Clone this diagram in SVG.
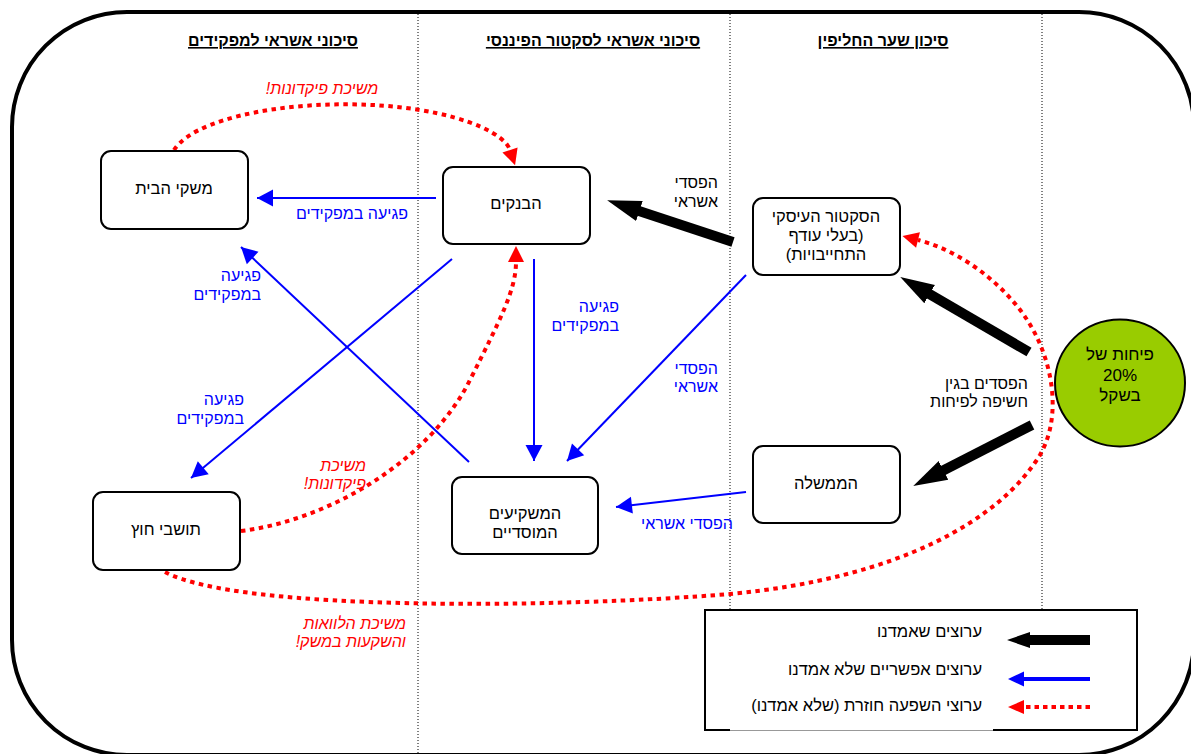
<svg xmlns="http://www.w3.org/2000/svg" width="1191" height="754" viewBox="0 0 1191 754">
<style>
text{font-family:"Liberation Sans","DejaVu Sans",sans-serif;font-size:16.5px;direction:rtl;unicode-bidi:embed}
.hdr{font-weight:bold;text-decoration:underline;font-size:16px}
.c{text-anchor:middle}
.r{text-anchor:start}
.lb{font-size:16px}
.blue{fill:#0000FF}
.red{fill:#FF0000;font-style:italic}
.node rect{fill:#fff;stroke:#000;stroke-width:2}
.sep{stroke:#000;stroke-width:1;stroke-dasharray:1 2;fill:none}
.bl{stroke:#0000FF;stroke-width:2;fill:none;marker-end:url(#hBlue)}
.rd{stroke:#FF0000;stroke-width:4;stroke-dasharray:4.5 4.5;fill:none;marker-end:url(#hRed)}
.bk{stroke:#000;stroke-width:10;fill:none;marker-end:url(#hBlack)}
</style>
<defs>
<marker id="hBlue" markerUnits="userSpaceOnUse" markerWidth="18" markerHeight="18" viewBox="0 -9 16 18" refX="16" refY="0" orient="auto"><path d="M0,-8.5 L16,0 L0,8.5 z" fill="#0000FF"/></marker>
<marker id="hRed" markerUnits="userSpaceOnUse" markerWidth="18" markerHeight="18" viewBox="0 -9 17 18" refX="0" refY="0" orient="auto"><path d="M0,-8 L16,0 L0,8 z" fill="#FF0000"/></marker>
<marker id="hBlack" markerUnits="userSpaceOnUse" markerWidth="36" markerHeight="24" viewBox="0 -12 36 24" refX="2" refY="0" orient="auto"><path d="M0,-10.5 L34,0 L0,10.5 z" fill="#000"/></marker>
</defs>
<rect x="0" y="0" width="1191" height="754" fill="#fff"/>
<rect id="frame" x="12" y="12" width="1182" height="743" rx="115" ry="115" fill="none" stroke="#000" stroke-width="4"/>
<g id="separators">
<line class="sep" x1="418" y1="14" x2="418" y2="754"/>
<line class="sep" x1="730" y1="14" x2="730" y2="609"/>
<line class="sep" x1="1042" y1="14" x2="1042" y2="609"/>
</g>
<g id="headers">
<text class="hdr c" x="273" y="46">סיכוני אשראי למפקידים</text>
<text class="hdr c" x="593" y="46">סיכוני אשראי לסקטור הפיננסי</text>
<text class="hdr c" x="883" y="46">סיכון שער החליפין</text>
</g>
<g id="connectors">
<line class="bk" x1="733" y1="242" x2="637.5" y2="210.4"/>
<line class="bk" x1="1029" y1="352" x2="927.9" y2="293.1"/>
<line class="bk" x1="1032" y1="425" x2="941.7" y2="471.3"/>
<line class="bl" x1="436" y1="198" x2="257" y2="198"/>
<line class="bl" x1="452" y1="259" x2="191" y2="478"/>
<line class="bl" x1="469" y1="462" x2="241" y2="247"/>
<line class="bl" x1="534" y1="259" x2="534" y2="461"/>
<line class="bl" x1="746" y1="275" x2="567" y2="461"/>
<line class="bl" x1="746" y1="492" x2="616" y2="507"/>
<path class="rd" d="M174,150 C200,110 330,95 420,110 C470,118 505,135 510,150"/>
<path class="rd" d="M241,531 C330,520 430,460 470,380 C500,320 516,290 516,262"/>
<path class="rd" d="M165,572 C240,612 560,608 730,594 C900,578 1000,520 1040,455 C1066,410 1050,340 1010,298 C985,270 950,248 918,240"/>
</g>
<g id="labels">
<text class="red c lb" x="322" y="94">משיכת פיקדונות!</text>
<text class="blue r lb" x="408" y="219">פגיעה במפקידים</text>
<text class="blue r lb" x="261" y="281">פגיעה</text>
<text class="blue r lb" x="261" y="300">במפקידים</text>
<text class="blue r lb" x="244" y="405">פגיעה</text>
<text class="blue r lb" x="244" y="424">במפקידים</text>
<text class="blue r lb" x="619" y="312">פגיעה</text>
<text class="blue r lb" x="619" y="331">במפקידים</text>
<text class="r lb" x="718" y="188">הפסדי</text>
<text class="r lb" x="718" y="207">אשראי</text>
<text class="blue r lb" x="718" y="374">הפסדי</text>
<text class="blue r lb" x="718" y="392">אשראי</text>
<text class="r lb" x="1028" y="389">הפסדים בגין</text>
<text class="r lb" x="1028" y="407">חשיפה לפיחות</text>
<text class="red r lb" x="366" y="471">משיכת</text>
<text class="red r lb" x="366" y="489">פיקדונות!</text>
<text class="blue c lb" x="687" y="529">הפסדי אשראי</text>
<text class="red r lb" x="406" y="629">משיכת הלוואות</text>
<text class="red r lb" x="406" y="647">והשקעות במשק!</text>
</g>
<g id="n-households" class="node">
<rect x="101" y="151" width="147" height="78" rx="10"/>
<text class="c" x="174" y="194">משקי הבית</text>
</g>
<g id="n-banks" class="node">
<rect x="443" y="167" width="147" height="77" rx="10"/>
<text class="c" x="516" y="209">הבנקים</text>
</g>
<g id="n-business" class="node">
<rect x="753" y="198" width="147" height="77" rx="10"/>
<text class="c" x="826" y="222">הסקטור העיסקי</text>
<text class="c" x="826" y="241">(בעלי עודף</text>
<text class="c" x="826" y="260">התחייבויות)</text>
</g>
<g id="n-government" class="node">
<rect x="753" y="446" width="147" height="77" rx="10"/>
<text class="c" x="826" y="489">הממשלה</text>
</g>
<g id="n-institutional" class="node">
<rect x="452" y="477" width="146" height="77" rx="10"/>
<text class="c" x="525" y="519">המשקיעים</text>
<text class="c" x="525" y="538">המוסדיים</text>
</g>
<g id="n-foreign" class="node">
<rect x="93" y="492" width="147" height="78" rx="10"/>
<text class="c" x="166" y="535">תושבי חוץ</text>
</g>
<g id="n-devaluation">
<ellipse cx="1120" cy="383" rx="65" ry="63.5" fill="#99CC00" stroke="#000" stroke-width="2"/>
<text class="c" x="1120" y="360" style="font-size:17px">פיחות של</text>
<text class="c" x="1120" y="381" style="font-size:17px">20%</text>
<text class="c" x="1120" y="401" style="font-size:17px">בשקל</text>
</g>
<g id="legend">
<rect x="705" y="610" width="432" height="120" fill="#fff" stroke="#000" stroke-width="2"/>
<line x1="730" y1="730" x2="993" y2="730" stroke="#fff" stroke-width="3"/>
<line x1="730" y1="730.5" x2="993" y2="730.5" stroke="#999" stroke-width="1"/>
<text class="r" x="982" y="637">ערוצים שאמדנו</text>
<text class="r" x="982" y="675">ערוצים אפשריים שלא אמדנו</text>
<text class="r" x="982" y="711">ערוצי השפעה חוזרת (שלא אמדנו)</text>
<polygon points="1090,635 1030,635 1030,632 1007,640 1030,648 1030,645 1090,645" fill="#000"/>
<line x1="1090" y1="679" x2="1020" y2="679" stroke="#0000FF" stroke-width="4"/>
<polygon points="1008,679 1024,671.5 1024,686.5" fill="#0000FF"/>
<line x1="1090" y1="707" x2="1024" y2="707" stroke="#FF0000" stroke-width="4" stroke-dasharray="4.5 4"/>
<polygon points="1008,707 1024,700 1024,714" fill="#FF0000"/>
</g>
</svg>
